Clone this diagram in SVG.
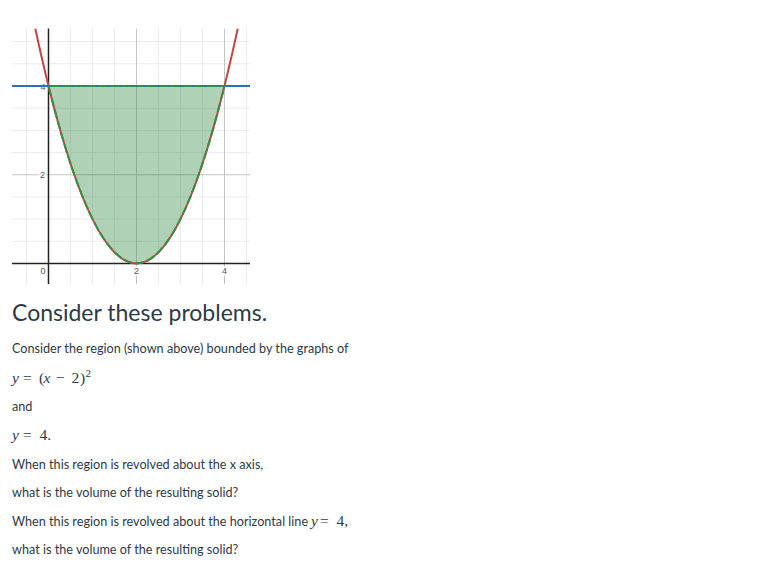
<svg xmlns="http://www.w3.org/2000/svg" width="778" height="570" viewBox="0 0 778 570">
<style>
.minor{stroke:#ebebeb;stroke-width:1;fill:none}
.major{stroke:#c4c4c4;stroke-width:1;fill:none}
.axis{stroke:#222;stroke-width:1.5;fill:none}
.lbl{font-family:"Liberation Sans",Arial,sans-serif;font-size:9px;fill:#555;text-anchor:middle;stroke:#fff;stroke-width:3;paint-order:stroke}
.h{font-family:Lato,"Open Sans",sans-serif;font-size:23px;fill:#2d3b45}
.t{font-family:Lato,"Open Sans",sans-serif;font-size:12.65px;fill:#2d3b45}
.m{font-family:"Liberation Serif","Times New Roman",serif;font-size:15.5px;fill:#2d3b45}
.i{font-style:italic}
</style>
<defs>
<clipPath id="gc"><rect x="12" y="28.5" width="238" height="255.5"/></clipPath>
</defs>
<g id="graph" clip-path="url(#gc)">
<g id="grid">
<path class="minor" d="M26.5 28V284M70.5 28V284M92.5 28V284M114.5 28V284M158.5 28V284M180.5 28V284M202.5 28V284M246.5 28V284M12 241.3H250M12 219.1H250M12 196.9H250M12 152.6H250M12 130.4H250M12 108.2H250M12 63.8H250M12 41.6H250"/>
<path class="major" d="M136.5 28V284M224.5 28V284M12 174.75H250M12 86H250"/>
</g>
<g id="region">
<path d="M48.5 86Q136.5 440.5 224.5 86Z" fill="#388c46" fill-opacity="0.4" stroke="none"/>
</g>
<g id="axes">
<path class="axis" d="M48.5 28V284M12 263.5H250"/>
</g>
<g id="labels">
<text class="lbl" x="43" y="273.5">0</text>
<text class="lbl" x="136.5" y="273.5">2</text>
<text class="lbl" x="224.5" y="273.5">4</text>
<text class="lbl" x="42.5" y="178">2</text>
<text class="lbl" x="43" y="89.5">4</text>
</g>
<g id="connectors">
<path d="M35.25 28.5Q136.5 498.5 237.75 28.5" fill="none" stroke="#c74440" stroke-width="2"/>
<path d="M12 86H250" fill="none" stroke="#2d70b3" stroke-width="2"/>
<path d="M48.5 86Q136.5 440.5 224.5 86H48.5" fill="none" stroke="#388c46" stroke-width="2" stroke-dasharray="9 3"/>
</g>
</g>
<g id="text">
<text class="h" x="12" y="321">Consider these problems.</text>
<text class="t" x="12" y="353">Consider the region (shown above) bounded by the graphs of</text>
<text class="m" y="383"><tspan class="i" x="12">y</tspan><tspan x="23">=</tspan><tspan x="39">(</tspan><tspan class="i" x="43.5">x</tspan><tspan x="56">−</tspan><tspan x="71.5">2</tspan><tspan x="80">)</tspan><tspan x="85.5" y="377" font-size="11px">2</tspan></text>
<text class="t" x="12" y="411">and</text>
<text class="m" y="440"><tspan class="i" x="12">y</tspan><tspan x="23">=</tspan><tspan x="39.5">4.</tspan></text>
<text class="t" x="12" y="468.5">When this region is revolved about the x axis,</text>
<text class="t" x="12" y="497">what is the volume of the resulting solid?</text>
<text class="t" x="12" y="525.5">When this region is revolved about the horizontal line</text>
<text class="m" y="526"><tspan class="i" x="311">y</tspan><tspan x="320">=</tspan><tspan x="336.5">4,</tspan></text>
<text class="t" x="12" y="554">what is the volume of the resulting solid?</text>
</g>
</svg>
